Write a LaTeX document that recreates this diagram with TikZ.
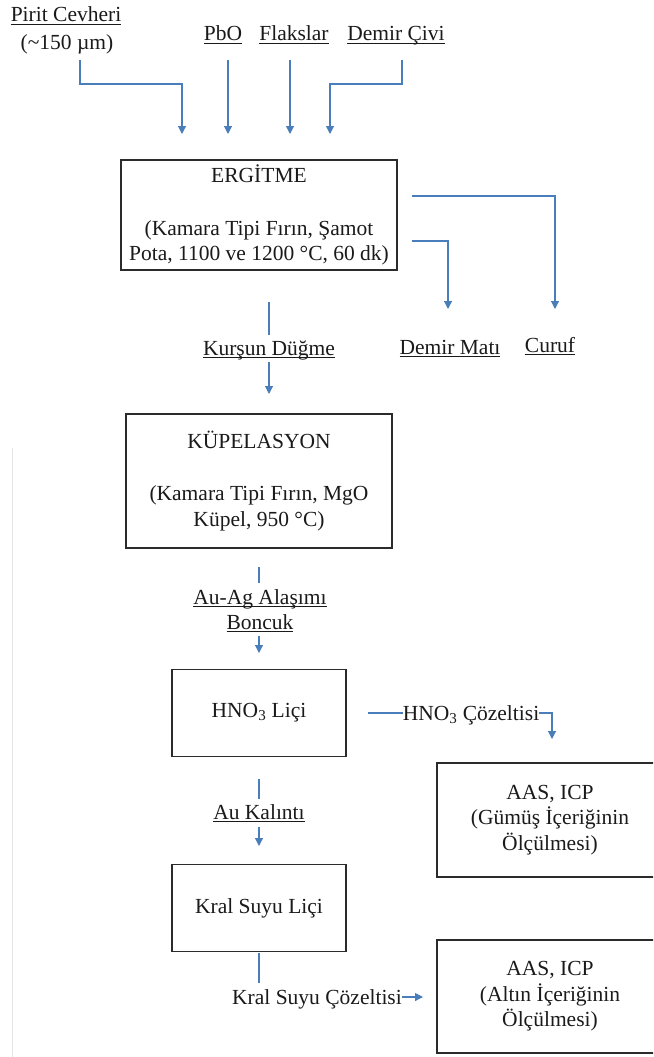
\documentclass[tikz,border=0pt]{standalone}
\usepackage{fontspec}
\setmainfont{Liberation Serif}
\usetikzlibrary{arrows.meta,calc}
\definecolor{connblue}{HTML}{4A7EBB}
\definecolor{boxline}{HTML}{2B2B2B}
\definecolor{txt}{HTML}{1A1A1A}
\definecolor{edgegray}{HTML}{E4E4E4}
\newsavebox{\ulnbox}
\newcommand\uln[1]{\sbox\ulnbox{#1}\rlap{\rule[-2.6pt]{\wd\ulnbox}{0.9pt}}\usebox\ulnbox}
\begin{document}
\begin{tikzpicture}[x=1pt,y=-1pt,
  every node/.style={font=\fontsize{21.5}{25.5}\selectfont, text=txt},
  box/.style={draw=boxline, line width=1.5pt, align=center, inner sep=0pt},
  lbl/.style={inner sep=0pt, anchor=base},
  conn/.style={draw=connblue, line width=1.1pt},
  arr/.style={conn, -{Triangle[length=8pt,width=8pt]}},
]
\clip (0,0) rectangle (653,1057);
\fill[white] (0,0) rectangle (653,1057);
\draw[edgegray, line width=1pt] (12,448) -- (12,1057);

% input labels
\node[lbl] (pirit) at (66,22) {\uln{Pirit Cevheri}};
\node[lbl] (piritsz) at (67,49) {(\textasciitilde150 µm)};
\node[lbl] (pbo) at (223,41) {\uln{PbO}};
\node[lbl] (flaks) at (294,41) {\uln{Flakslar}};
\node[lbl] (demir) at (396,41) {\uln{Demir Çivi}};

% boxes
\node[box, minimum width=276pt, minimum height=110pt] (erg) at (259,215)
  {ERGİTME\\[27pt](Kamara Tipi Fırın, Şamot\\Pota, 1100 ve 1200 °C, 60 dk)};
\node[box, minimum width=266pt, minimum height=134pt] (kup) at (259,481)
  {KÜPELASYON\\[27pt](Kamara Tipi Fırın, MgO\\Küpel, 950 °C)};
\node[box, minimum width=174pt, minimum height=87pt] (hno) at (259,713)
  {HNO\textsubscript{3} Liçi};
\node[box, minimum width=174pt, minimum height=87pt] (kral) at (259,908)
  {Kral Suyu Liçi};
\node[box, minimum width=226pt, minimum height=114pt] (gum) at (550,820)
  {AAS, ICP\\(Gümüş İçeriğinin\\Ölçülmesi)};
\node[box, minimum width=226pt, minimum height=113pt] (alt) at (550,996.5)
  {AAS, ICP\\(Altın İçeriğinin\\Ölçülmesi)};

% intermediate labels
\node[lbl] (kursun) at (269,355) {\uln{Kurşun Düğme}};
\node[lbl] (demirmat) at (450,354) {\uln{Demir Matı}};
\node[lbl] (curuf) at (550,352) {\uln{Curuf}};
\node[lbl] (auag) at (260,604) {\uln{Au-Ag Alaşımı}};
\node[lbl] (boncuk) at (260,629) {\uln{Boncuk}};
\node[lbl] (hnosol) at (471,720) {HNO\textsubscript{3} Çözeltisi};
\node[lbl] (aukal) at (259,819) {\uln{Au Kalıntı}};
\node[lbl] (kralsol) at (317,1004) {Kral Suyu Çözeltisi};

% coordinates
\coordinate (a1) at (80,60);  \coordinate (a1m) at (182,84);  \coordinate (a1t) at (182,134);
\coordinate (b1) at (228,60); \coordinate (b1t) at (228,134);
\coordinate (c1) at (290,60); \coordinate (c1t) at (290,134);
\coordinate (d1) at (402,60); \coordinate (d1m) at (330,84);  \coordinate (d1t) at (330,134);
\coordinate (e1) at (412,196); \coordinate (e1t) at (555,309);
\coordinate (e2) at (412,241); \coordinate (e2t) at (448,309);
\coordinate (k1) at (269,302); \coordinate (k2) at (269,335);
\coordinate (k3) at (269,362); \coordinate (k4) at (269,394);
\coordinate (g1) at (259,567); \coordinate (g2) at (259,583);
\coordinate (g3) at (259,636); \coordinate (g4) at (259,653);
\coordinate (h1) at (368,713); \coordinate (h1t) at (552,739);
\coordinate (u1) at (259,779); \coordinate (u2) at (259,799);
\coordinate (u3) at (259,827); \coordinate (u4) at (259,846);
\coordinate (r1) at (259,953); \coordinate (r2) at (259,983);
\coordinate (r3) at (423,997);

% connectors
\draw[arr] (a1) |- (a1m) -- (a1t);
\draw[arr] (b1) -- (b1t);
\draw[arr] (c1) -- (c1t);
\draw[arr] (d1) |- (d1m) -- (d1t);
\draw[arr] (e1) -| (e1t);
\draw[arr] (e2) -| (e2t);
\draw[conn] (k1) -- (k2);
\draw[arr] (k3) -- (k4);
\draw[conn] (g1) -- (g2);
\draw[arr] (g3) -- (g4);
\draw[conn] (h1) -- (h1 -| hnosol.west);
\draw[arr] (h1 -| hnosol.east) -| (h1t);
\draw[conn] (u1) -- (u2);
\draw[arr] (u3) -- (u4);
\draw[conn] (r1) -- (r2);
\draw[arr] (r3 -| kralsol.east) -- (r3);
\end{tikzpicture}
\end{document}
